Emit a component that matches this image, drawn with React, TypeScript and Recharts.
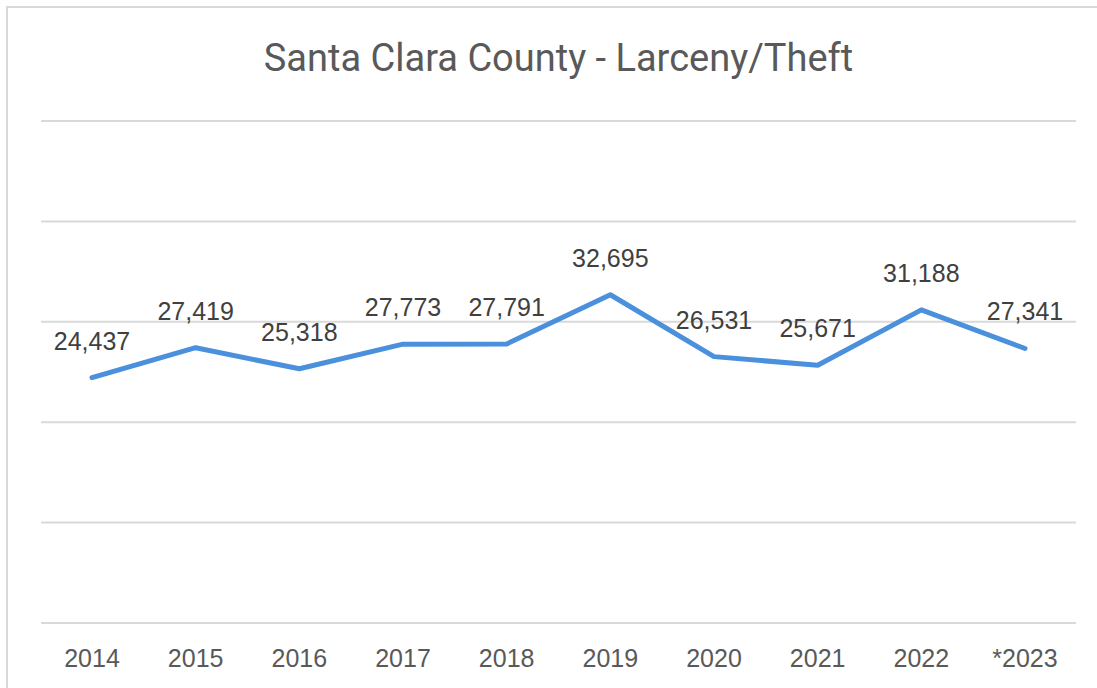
import { LineChart, Line, XAxis, YAxis, CartesianGrid, LabelList } from 'recharts';

// Santa Clara County larceny/theft counts by year
const years = ['2014', '2015', '2016', '2017', '2018', '2019', '2020', '2021', '2022', '*2023'];
const thefts = [24437, 27419, 25318, 27773, 27791, 32695, 26531, 25671, 31188, 27341];
const yTicks = [0, 10000, 20000, 30000, 40000, 50000];

const data = years.map((year, i) => ({ year, thefts: thefts[i] }));

const fmt = (v: number) => v.toLocaleString('en-US');

// eslint-disable-next-line @typescript-eslint/no-explicit-any
const ValueLabel = (props: any) => {
  const { x, y, value } = props;
  return (
    <text
      x={x}
      y={y - 28}
      textAnchor="middle"
      fontSize={25}
      fontFamily="'Liberation Sans', Arial, sans-serif"
      fill="#404040"
    >
      {fmt(Number(value))}
    </text>
  );
};

export default function App() {
  return (
    <div style={{ position: 'absolute', left: 0, top: 0, width: 1097, height: 688, background: '#fff', overflow: 'hidden' }}>
      <div
        style={{
          position: 'absolute',
          left: 6,
          top: 6,
          width: 1097,
          height: 700,
          borderTop: '2px solid #d9d9d9',
          borderLeft: '2px solid #d9d9d9',
        }}
      />
      <div
        style={{
          position: 'absolute',
          left: 41,
          top: 39,
          width: 1035,
          textAlign: 'center',
          fontFamily: 'Roboto, sans-serif',
          fontSize: 38,
          lineHeight: 1,
          color: '#595959',
        }}
      >
        Santa Clara County - Larceny/Theft
      </div>
      <LineChart
        width={1097}
        height={688}
        data={data}
        margin={{ top: 121, right: 21, bottom: 35, left: 41 }}
        style={{ position: 'absolute', left: 0, top: 0 }}
      >
        <CartesianGrid vertical={false} stroke="#d9d9d9" strokeWidth={2} />
        <YAxis hide domain={[0, 50000]} ticks={yTicks} />
        <XAxis
          dataKey="year"
          height={30}
          axisLine={false}
          tickLine={false}
          tickSize={0}
          tickMargin={26}
          padding={{ left: 51, right: 51 }}
          tick={{ fontSize: 25, fill: '#595959', fontFamily: "'Liberation Sans', Arial, sans-serif" }}
        />
        <Line
          type="linear"
          dataKey="thefts"
          stroke="#4a90dc"
          strokeWidth={5}
          strokeLinecap="round"
          strokeLinejoin="round"
          dot={false}
          activeDot={false}
          isAnimationActive={false}
        >
          <LabelList dataKey="thefts" content={ValueLabel} />
        </Line>
      </LineChart>
    </div>
  );
}
